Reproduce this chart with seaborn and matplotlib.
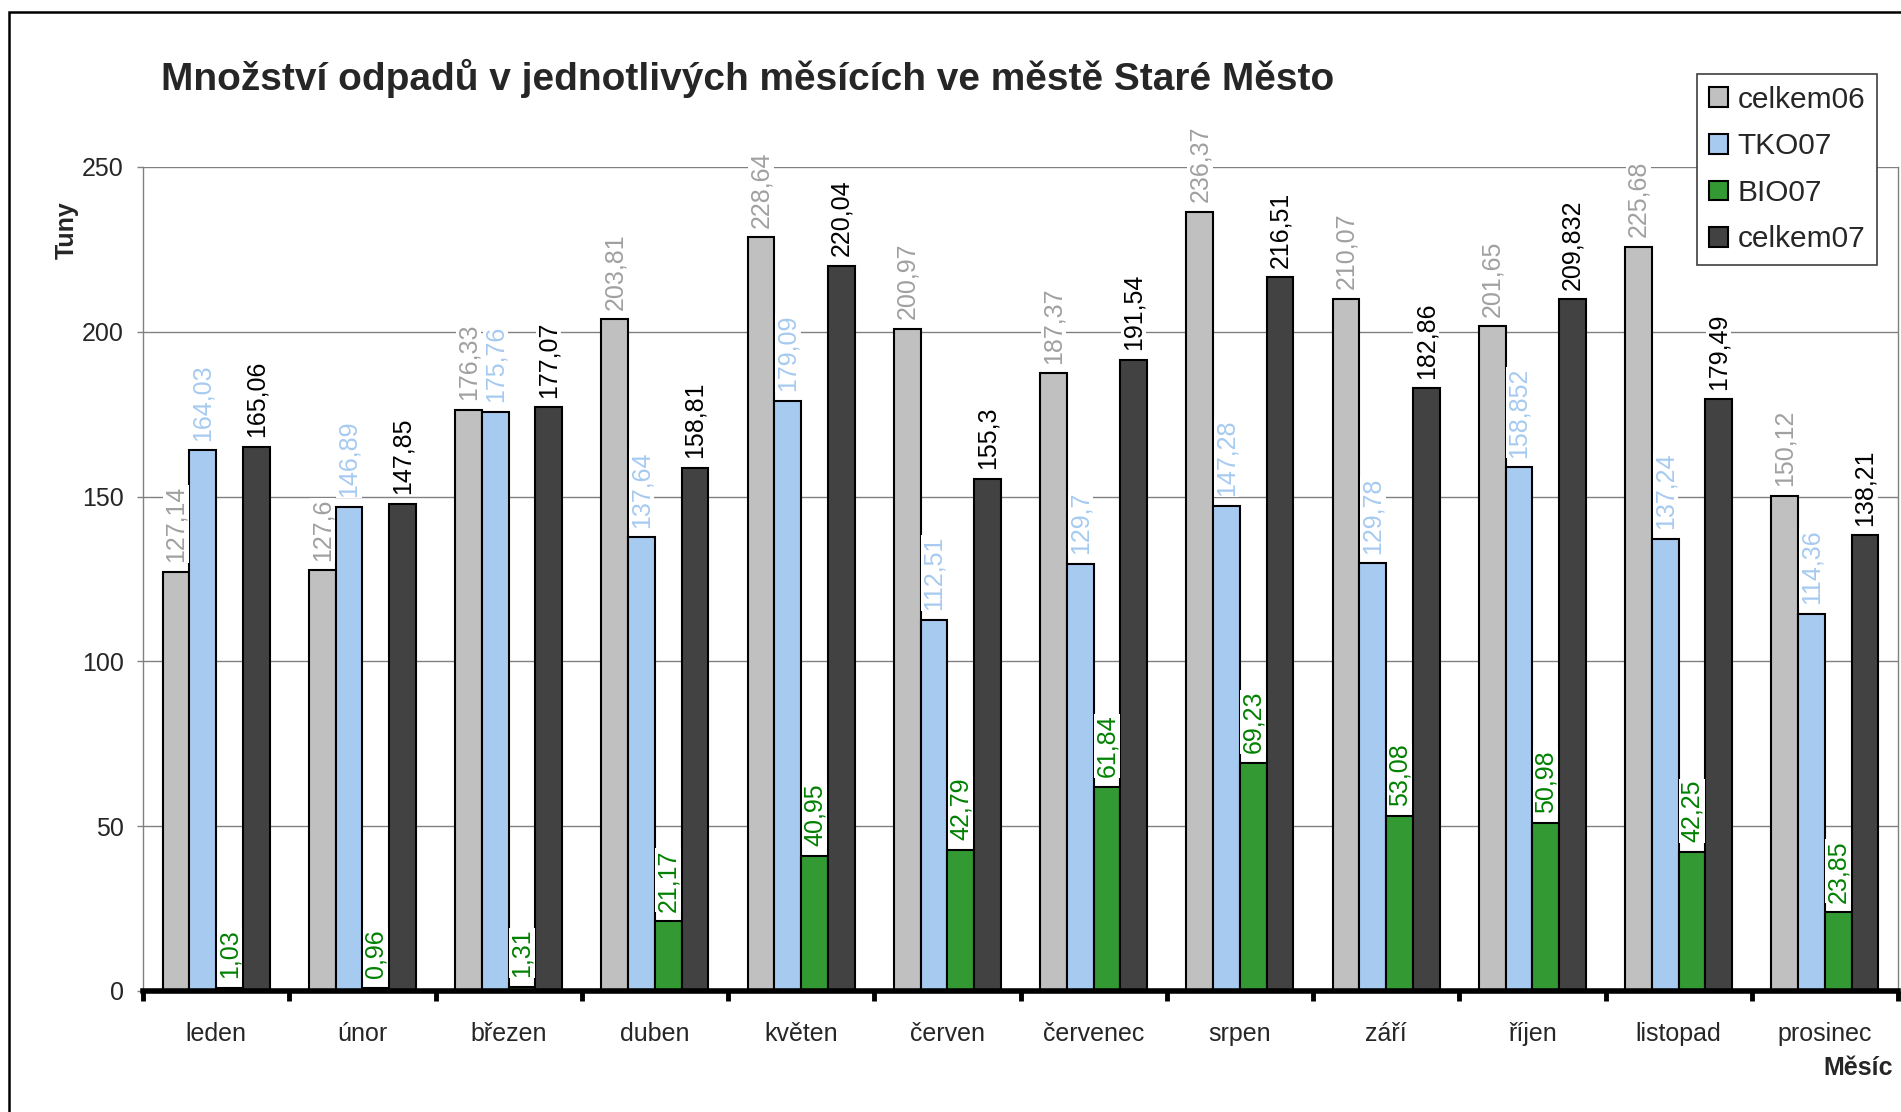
import pandas as pd
import matplotlib.pyplot as plt
import seaborn as sns
from matplotlib.patches import Rectangle

# Data
months = ["leden", "únor", "březen", "duben", "květen", "červen",
          "červenec", "srpen", "září", "říjen", "listopad", "prosinec"]
series_names = ["celkem06", "TKO07", "BIO07", "celkem07"]

celkem06 = [127.14, 127.6, 176.33, 203.81, 228.64, 200.97,
            187.37, 236.37, 210.07, 201.65, 225.68, 150.12]
tko07 = [164.03, 146.89, 175.76, 137.64, 179.09, 112.51,
         129.7, 147.28, 129.78, 158.852, 137.24, 114.36]
bio07 = [1.03, 0.96, 1.31, 21.17, 40.95, 42.79,
         61.84, 69.23, 53.08, 50.98, 42.25, 23.85]
celkem07 = [165.06, 147.85, 177.07, 158.81, 220.04, 155.3,
            191.54, 216.51, 182.86, 209.832, 179.49, 138.21]

y_ticks = [0, 50, 100, 150, 200, 250]

bar_colors = ["#C0C0C0", "#A6CAF0", "#339933", "#424242"]
label_colors = ["#A0A0A0", "#A6CAF0", "#008000", "#000000"]

values = {"celkem06": celkem06, "TKO07": tko07, "BIO07": bio07, "celkem07": celkem07}
df = pd.DataFrame(
    [(m, s, v) for s in series_names for m, v in zip(months, values[s])],
    columns=["month", "series", "value"],
)

sns.set_theme(style="white")
plt.rcParams["font.family"] = ["Liberation Sans", "DejaVu Sans"]

W, H = 1901, 1112
fig = plt.figure(figsize=(W / 100, H / 100), dpi=100)
ax = fig.add_axes([143 / W, 121 / H, (1898 - 143) / W, (989 - 165) / H])

sns.barplot(
    data=df, x="month", y="value", hue="series",
    order=months, hue_order=series_names, palette=bar_colors,
    width=0.73, gap=0, edgecolor="black", linewidth=1.5,
    saturation=1, errorbar=None, ax=ax, zorder=2,
)

# value labels, comma as decimal separator
for cont, name, col in zip(ax.containers, series_names, label_colors):
    labels = [str(v).replace(".", ",") for v in values[name]]
    ax.bar_label(cont, labels=labels, rotation=90, padding=7, color=col,
                 fontsize=18, zorder=5,
                 bbox=dict(facecolor="white", edgecolor="none", pad=0.5))

ax.set_xlim(-0.5, len(months) - 0.5)
ax.set_ylim(0, 250)
ax.set_yticks(y_ticks)
ax.set_yticklabels([str(t) for t in y_ticks], fontsize=18)
ax.tick_params(axis="y", direction="out", length=4, width=1, color="#808080", pad=10, left=True)

# x ticks at category boundaries, labels centered
ax.set_xticks(range(len(months)))
ax.set_xticklabels(months, fontsize=18)
ax.tick_params(axis="x", which="major", length=0, pad=22)
ax.set_xticks([i - 0.5 for i in range(len(months) + 1)], minor=True)
ax.tick_params(axis="x", which="minor", direction="out", length=7, width=3.5,
               color="black", bottom=True)

ax.yaxis.grid(True, color="#808080", linewidth=1)
ax.set_axisbelow(True)
ax.spines["top"].set_visible(False)
ax.spines["left"].set_color("#808080")
ax.spines["left"].set_linewidth(1)
ax.spines["right"].set_color("#808080")
ax.spines["right"].set_linewidth(1)
ax.spines["bottom"].set_color("black")
ax.spines["bottom"].set_linewidth(4)
ax.spines["bottom"].set_zorder(6)

ax.set_ylabel("")
ax.set_xlabel("Měsíc", fontsize=18, fontweight="bold", loc="right")
ax.xaxis.set_label_coords(0.997, -0.079)

fig.text(67 / W, 1 - 230 / H, "Tuny", rotation=90, fontsize=18, fontweight="bold",
         ha="center", va="center")
fig.text(161 / W, 1 - 90 / H, "Množství odpadů v jednotlivých měsících ve městě Staré Město",
         fontsize=28, fontweight="bold", ha="left", va="baseline")

handles, labels = ax.get_legend_handles_labels()
for h in handles:
    h.set_edgecolor("black")
leg = ax.legend(handles, labels, loc="upper right", bbox_to_anchor=(1877 / W, 1 - 74 / H),
                bbox_transform=fig.transFigure, fontsize=21.5, frameon=True, fancybox=False,
                edgecolor="#404040", framealpha=1, handlelength=0.65, handleheight=0.65,
                handletextpad=0.3, labelspacing=0.62, borderpad=0.4, borderaxespad=0)
leg.get_frame().set_linewidth(1.2)
leg.set_zorder(10)

# outer chart border (only top and left edges fall inside the image)
fig.add_artist(Rectangle((9 / W, -0.1), 1.2, 1.1 - 12 / H, transform=fig.transFigure,
                         fill=False, edgecolor="black", linewidth=1.8))

fig.savefig("out.png", dpi=100)
